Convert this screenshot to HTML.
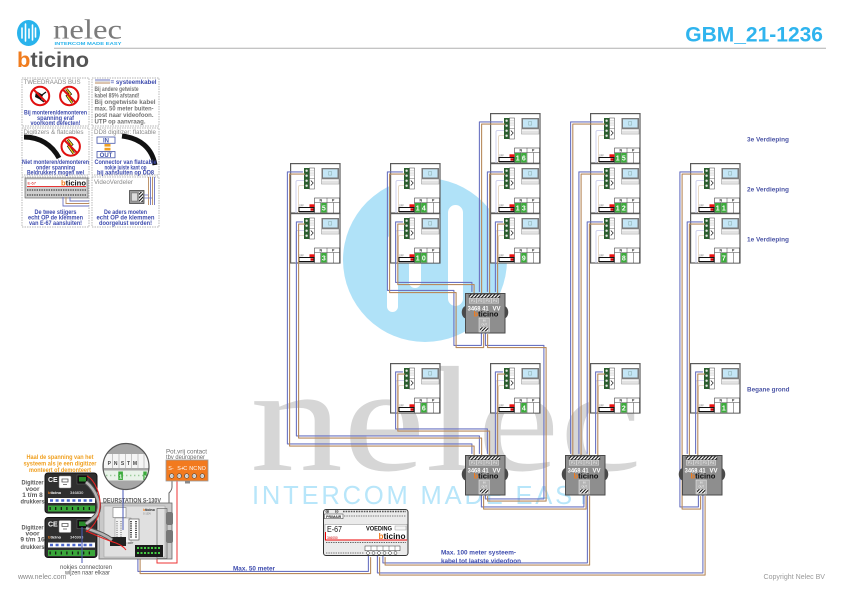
<!DOCTYPE html>
<html><head><meta charset="utf-8"><title>GBM_21-1236</title>
<style>
html,body{margin:0;padding:0;background:#fff;width:841px;height:595px;overflow:hidden}
svg{display:block;font-family:"Liberation Sans",Arial,sans-serif}
.np{font-size:3.6px;font-weight:bold;fill:#222;text-anchor:middle}
.off{font-size:2.4px;fill:#666}
.dg{font-size:7px;font-weight:bold;fill:#fff;text-anchor:middle}
.g{fill:#3cab3c}
.pl{font-size:3.4px;fill:#f4f4f4;text-anchor:middle}
.dt{font-size:6.4px;font-weight:bold;fill:#fff}
.bt{font-size:7.6px;font-weight:bold;fill:#111}
.io{font-size:2.6px;fill:#fff;text-anchor:middle}
.fl{font-size:6.4px;font-weight:bold;fill:#4c56a6}
.lb{font-size:6px;font-weight:bold;fill:#3e4cae;text-anchor:middle}
.lg{font-size:6.3px;font-weight:bold;fill:#747474}
.lgt{font-size:6.2px;fill:#8a8a8a}
.gr{font-size:6.5px;font-weight:bold;fill:#5a5a5a;text-anchor:middle}
.or{font-size:6.3px;font-weight:bold;fill:#f0a020;text-anchor:middle}
</style></head><body>
<svg width="841" height="595" viewBox="0 0 841 595" xmlns="http://www.w3.org/2000/svg" xmlns:xlink="http://www.w3.org/1999/xlink">
<defs>
<pattern id="hatch" width="2.4" height="2.4" patternUnits="userSpaceOnUse" patternTransform="rotate(45)"><rect width="2.4" height="2.4" fill="#fff"/><rect width="1.1" height="2.4" fill="#111"/></pattern>
<clipPath id="mag"><circle cx="126" cy="466.5" r="23"/></clipPath>
<g id="u">
<rect x=".6" y=".6" width="49.4" height="49.4" fill="#fff" stroke="#5a5a5a" stroke-width="1.2"/>
<path d="M14 17.5H7.5Q6 17.5 6 19V50" fill="none" stroke="#cfd0ec" stroke-width="1"/>
<path d="M14 22.5H10Q8.5 22.5 8.5 24V50" fill="none" stroke="#e6d8c6" stroke-width="1"/>
<rect x="14" y="5" width="5.5" height="21" fill="#2a5e2e"/>
<g fill="#e8e8e8"><circle cx="16.6" cy="7.7" r="1.2"/><circle cx="16.6" cy="12.7" r="1.2"/><circle cx="16.6" cy="17.7" r="1.2"/><circle cx="16.6" cy="22.7" r="1.2"/></g>
<rect x="19.5" y="5" width="5" height="21" fill="#fff" stroke="#444" stroke-width=".5"/>
<path d="M19.5 15.5h5" stroke="#444" stroke-width=".4"/>
<path d="M21 7v6M23 7v6" stroke="#999" stroke-width=".6" stroke-dasharray="1 .6"/>
<path d="M20.8 17.5l2.4 2.5-2.4 2.5" fill="none" stroke="#222" stroke-width=".7"/>
<rect x="31.5" y="5" width="17.5" height="11" fill="#7a7a7a"/>
<rect x="33" y="6.3" width="14.5" height="8.2" fill="#c4e6f6"/>
<rect x="38.6" y="8.6" width="3" height="3.5" fill="none" stroke="#8aa" stroke-width=".5"/>
<rect x="31.5" y="16" width="17.5" height="5" fill="#f4f4f4" stroke="#888" stroke-width=".5"/>
<path d="M32 19h16.5" stroke="#999" stroke-width=".4"/>
<rect x="24.5" y="35" width="25" height="15" fill="#fff" stroke="#444" stroke-width=".6"/>
<path d="M24.5 39.5H49.5M37 35V50M30.75 39.5V50M43.25 39.5V50" stroke="#444" stroke-width=".5"/>
<rect x="19.5" y="41.3" width="5" height="3.3" fill="#e11"/>
<rect x="9" y="44.5" width="15" height="4" fill="#fff" stroke="#111" stroke-width="1"/>
<rect x="20.5" y="45.3" width="3" height="2.4" fill="#c00"/>
</g>
<g id="d">
<path d="M0.5 13 C-4.5 14.5 -4.5 24 0.5 25.5Z" fill="#4a4a4a"/>
<path d="M39.5 13 C44.5 14.5 44.5 24 39.5 25.5Z" fill="#4a4a4a"/>
<rect x=".5" y=".5" width="39.5" height="39.5" fill="#8e8e8e" stroke="#4a4a4a" stroke-width="1"/>
<rect x="4" y="1.2" width="31" height="3.6" fill="url(#hatch)" stroke="#333" stroke-width=".4"/>
<g fill="#a9a9a9" stroke="#dcdcdc" stroke-width=".5"><rect x="4.3" y="5.2" width="7.2" height="5"/><rect x="11.7" y="5.2" width="7.2" height="5"/><rect x="19.1" y="5.2" width="7.2" height="5"/><rect x="26.5" y="5.2" width="7.2" height="5"/></g>
<rect x="14" y="25" width="10.3" height="14" fill="#b4b4b4" stroke="#e6e6e6" stroke-width=".6"/>
<rect x="15" y="34.3" width="8.3" height="4" fill="url(#hatch)"/>
</g>
<g id="routes" fill="none" stroke-width="1.1" stroke-linejoin="round">
<path d="M304 173H288.5V445H473V455"/>
<path d="M304 223H297.5V437H480.5V455"/>
<path d="M404 173H388.5V291.5H455V346.5H482.5V333"/>
<path d="M404 223H396.7V283.5H473V293"/>
<path d="M504 123H480.5V293"/>
<path d="M504 173H488.5V293"/>
<path d="M504 223H496.5V293"/>
<path d="M486.5 333V346.5H545V500H486.5V495"/>
<path d="M404 373H396.7V430H488.5V455"/>
<path d="M504 373H496.5V455"/>
<path d="M482.5 495V508H585V495"/>
<path d="M604 123H571.7V455"/>
<path d="M604 173H580V455"/>
<path d="M604 223H588.3V455"/>
<path d="M604 373H596.7V455"/>
<path d="M588.5 495V564H384V556"/>
<path d="M378.5 556V574H704V495"/>
<path d="M704 173H681V508H699.5V495"/>
<path d="M704 223H688.3V455"/>
<path d="M704 373H696.7V455"/>
<path d="M369.5 556V572.5H139V557"/>
</g>
</defs>

<!-- background watermark -->
<circle cx="425" cy="260" r="82" fill="#b0e2f8"/>
<g fill="#fff">
<rect x="387" y="235" width="11" height="77" rx="5.5"/>
<rect x="409" y="205" width="12" height="83" rx="6"/>
<rect x="448" y="205" width="15" height="101" rx="7.5"/>
</g>
<text x="250" y="470" font-family="Liberation Serif" font-size="150" fill="#d6d6d6" textLength="392" lengthAdjust="spacingAndGlyphs">nelec</text>
<text x="252" y="504" font-size="25.5" fill="#b8e6fa" textLength="340" lengthAdjust="spacing">INTERCOM MADE EASY</text>

<!-- header -->
<ellipse cx="28.5" cy="33" rx="11.5" ry="13" fill="#29b3ec"/>
<g stroke="#fff" stroke-width="1.6" stroke-linecap="round"><path d="M22 28v10M25.5 24v17M29 29v9M32.5 25v15M35.5 28v9"/></g>
<text x="53" y="38.3" font-family="Liberation Serif" font-size="27" fill="#7b7b7b" textLength="69" lengthAdjust="spacingAndGlyphs">nelec</text>
<text x="54.5" y="45" font-size="4.6" font-weight="bold" fill="#29b3ec" textLength="67" lengthAdjust="spacingAndGlyphs">INTERCOM MADE EASY</text>
<path d="M54 48.3H826" stroke="#b0b0b0" stroke-width="1"/>
<text x="17" y="67" font-size="21" font-weight="bold" fill="#555" textLength="72" lengthAdjust="spacingAndGlyphs"><tspan fill="#f07c1e">b</tspan>ticino</text>
<text x="823" y="41.7" font-size="21" font-weight="bold" fill="#2fb4ee" text-anchor="end">GBM_21-1236</text>

<!-- legend -->
<g fill="none" stroke="#9a9a9a" stroke-width=".7" stroke-dasharray="1.5 1">
<rect x="22" y="78" width="67" height="48"/><rect x="92" y="78" width="67" height="48"/>
<rect x="22" y="128" width="67" height="47"/><rect x="92" y="128" width="67" height="47"/>
<rect x="22" y="177" width="67" height="50"/><rect x="92" y="177" width="67" height="50"/>
</g>
<text class="lgt" x="23.5" y="84" textLength="57" lengthAdjust="spacingAndGlyphs">TWEEDRAADS BUS</text>
<g transform="translate(40,96)">
<circle r="9.2" fill="#fff" stroke="#e01010" stroke-width="2"/>
<path d="M-4 -5L3 -1L1 4L-5 1Z" fill="#111"/><path d="M2 -1L6 -4M0 3L4 6" stroke="#111" stroke-width="1.3"/>
<path d="M-6.5 -6.5L6.5 6.5" stroke="#e01010" stroke-width="2"/></g>
<g transform="translate(69.3,96)">
<circle r="9.2" fill="#fff" stroke="#e01010" stroke-width="2"/>
<path d="M-3 -7L1 -2L-2 0L3 7" stroke="#111" stroke-width="2.6" fill="none"/>
<path d="M-3 -7L1 -2L-2 0L3 7" stroke="#f2d21a" stroke-width="1.3" fill="none"/>
<path d="M-6.5 -6.5L6.5 6.5" stroke="#e01010" stroke-width="2"/></g>
<text class="lb" x="55.5" y="114.3" textLength="63" lengthAdjust="spacingAndGlyphs">Bij monteren/demonteren</text>
<text class="lb" x="55.5" y="119.8" textLength="37" lengthAdjust="spacingAndGlyphs">spanning eraf</text>
<text class="lb" x="55.5" y="125" textLength="50" lengthAdjust="spacingAndGlyphs">voorkomt defecten!</text>

<path d="M95 80H110" stroke="#6b73c2" stroke-width="1"/><path d="M95 81.5H110" stroke="#ddd" stroke-width="1"/><path d="M95 83H110" stroke="#b88a5c" stroke-width="1"/>
<text x="110.5" y="84" font-size="6" font-weight="bold" fill="#3e4cae" textLength="46" lengthAdjust="spacingAndGlyphs">= systeemkabel</text>
<text class="lg" x="94.5" y="91" textLength="44" lengthAdjust="spacingAndGlyphs">Bij andere getwiste</text>
<text class="lg" x="94.5" y="97.5" textLength="45" lengthAdjust="spacingAndGlyphs">kabel 85% afstand!</text>
<text class="lg" x="94.5" y="104" textLength="61" lengthAdjust="spacingAndGlyphs">Bij ongetwiste kabel</text>
<text class="lg" x="94.5" y="110.5" textLength="59" lengthAdjust="spacingAndGlyphs">max. 50 meter buiten-</text>
<text class="lg" x="94.5" y="117" textLength="59" lengthAdjust="spacingAndGlyphs">post naar videofoon.</text>
<text class="lg" x="94.5" y="123.5" textLength="51" lengthAdjust="spacingAndGlyphs">UTP op aanvraag.</text>

<text class="lgt" x="23.5" y="134" textLength="60" lengthAdjust="spacingAndGlyphs">Digitizers &amp; flatcables</text>
<path d="M24 137C40 137 52 145 59 158" stroke="#111" stroke-width="5" fill="none"/>
<g transform="translate(70.7,146.5)">
<circle r="9.2" fill="#fff" stroke="#e01010" stroke-width="2"/>
<path d="M-3 -7L1 -2L-2 0L3 7" stroke="#111" stroke-width="2.6" fill="none"/>
<path d="M-3 -7L1 -2L-2 0L3 7" stroke="#f2d21a" stroke-width="1.3" fill="none"/>
<path d="M-6.5 -6.5L6.5 6.5" stroke="#e01010" stroke-width="2"/></g>
<text class="lb" x="55.5" y="164" textLength="67" lengthAdjust="spacingAndGlyphs">Niet monteren/demonteren</text>
<text class="lb" x="55.5" y="169.5" textLength="39" lengthAdjust="spacingAndGlyphs">onder spanning</text>
<text class="lb" x="55.5" y="174.5" textLength="57" lengthAdjust="spacingAndGlyphs">Beldrukkers mogen wel</text>

<text class="lgt" x="94" y="134" textLength="62" lengthAdjust="spacingAndGlyphs">DD8 digitizer: flatcable</text>
<rect x="97" y="137" width="18" height="6.3" fill="#fff" stroke="#4455aa" stroke-width=".8"/>
<text x="106" y="142.4" font-size="6" font-weight="bold" fill="#4455aa" text-anchor="middle">IN</text>
<rect x="104.5" y="144" width="6" height="2.6" fill="#f0a020"/><rect x="104.5" y="147.8" width="6" height="2.6" fill="#f0a020"/>
<rect x="97" y="151.5" width="18" height="6.3" fill="#fff" stroke="#4455aa" stroke-width=".8"/>
<text x="106" y="156.9" font-size="6" font-weight="bold" fill="#4455aa" text-anchor="middle">OUT</text>
<path d="M122 136C140 138 152 148 155 165" stroke="#111" stroke-width="5" fill="none"/>
<text class="lb" x="125.5" y="164" textLength="62" lengthAdjust="spacingAndGlyphs">Connector van flatcable</text>
<text class="lb" x="125.5" y="169.5" textLength="42" lengthAdjust="spacingAndGlyphs">nokje juiste kant op</text>
<text class="lb" x="125.5" y="174.5" textLength="57" lengthAdjust="spacingAndGlyphs">bij aansluiten op DD8</text>

<rect x="25" y="178" width="63" height="20" fill="#cfcfcf" stroke="#555" stroke-width=".6"/>
<rect x="27" y="179.5" width="59" height="6.5" fill="#fff"/>
<text x="27.5" y="184.5" font-size="4" fill="#c00">E-67</text>
<text x="61" y="185.3" font-size="7" font-weight="bold" fill="#111" textLength="25" lengthAdjust="spacingAndGlyphs"><tspan fill="#f07c1e">b</tspan>ticino</text>
<path d="M27 186.5H86" stroke="#e00" stroke-width=".8"/>
<path d="M27 190H86M27 195H86" stroke="#555" stroke-width="1.4" stroke-dasharray="1.4 1"/>
<path d="M63 197V206H89" stroke="#6b73c2" fill="none" stroke-width=".9"/><path d="M66 197V203.5H89" stroke="#b88a5c" fill="none" stroke-width=".9"/>
<path d="M70 197V201H89" stroke="#6b73c2" fill="none" stroke-width=".9"/>
<text class="lb" x="55.5" y="214" textLength="42" lengthAdjust="spacingAndGlyphs">De twee stijgers</text>
<text class="lb" x="55.5" y="219.5" textLength="55" lengthAdjust="spacingAndGlyphs">echt OP de klemmen</text>
<text class="lb" x="55.5" y="225" textLength="53" lengthAdjust="spacingAndGlyphs">van E-67 aansluiten!</text>

<text class="lgt" x="94" y="184" textLength="39" lengthAdjust="spacingAndGlyphs">VideoVerdeler</text>
<path d="M148.5 177V205M152.5 177V205" stroke="#b88a5c" stroke-width=".9"/>
<path d="M150.5 177V205M154.5 177V205" stroke="#6b73c2" stroke-width=".9"/>
<rect x="129.5" y="190.5" width="14.5" height="13" fill="#9a9a9a" stroke="#333" stroke-width=".7"/>
<rect x="131.5" y="193" width="6" height="8" fill="#ddd" stroke="#555" stroke-width=".4"/>
<rect x="139" y="192" width="4" height="10" fill="url(#hatch)"/>
<path d="M144 195H148.5M144 198H152.5" stroke="#6b73c2" stroke-width=".8"/>
<text class="lb" x="125.5" y="214" textLength="43" lengthAdjust="spacingAndGlyphs">De aders moeten</text>
<text class="lb" x="125.5" y="219.5" textLength="58" lengthAdjust="spacingAndGlyphs">echt OP de klemmen</text>
<text class="lb" x="125.5" y="225" textLength="53" lengthAdjust="spacingAndGlyphs">doorgelust worden!</text>

<!-- units -->
<g transform="translate(290,163)"><use href="#u" xlink:href="#u"/><text class="np" x="30.75" y="38.7">N</text><text class="np" x="43.25" y="38.7">P</text><text class="off" x="9" y="43.3">OFF</text><rect class="g" x="31.1" y="40" width="5.5" height="9.5"/><text class="dg" x="33.85" y="47.6">5</text></g>
<g transform="translate(290,213)"><use href="#u" xlink:href="#u"/><text class="np" x="30.75" y="38.7">N</text><text class="np" x="43.25" y="38.7">P</text><text class="off" x="9" y="43.3">OFF</text><rect class="g" x="31.1" y="40" width="5.5" height="9.5"/><text class="dg" x="33.85" y="47.6">3</text></g>
<g transform="translate(390,163)"><use href="#u" xlink:href="#u"/><text class="np" x="30.75" y="38.7">N</text><text class="np" x="43.25" y="38.7">P</text><text class="off" x="9" y="43.3">OFF</text><rect class="g" x="24.9" y="40" width="5.5" height="9.5"/><text class="dg" x="27.65" y="47.6">1</text><rect class="g" x="31.1" y="40" width="5.5" height="9.5"/><text class="dg" x="33.85" y="47.6">4</text></g>
<g transform="translate(390,213)"><use href="#u" xlink:href="#u"/><text class="np" x="30.75" y="38.7">N</text><text class="np" x="43.25" y="38.7">P</text><text class="off" x="9" y="43.3">OFF</text><rect class="g" x="24.9" y="40" width="5.5" height="9.5"/><text class="dg" x="27.65" y="47.6">1</text><rect class="g" x="31.1" y="40" width="5.5" height="9.5"/><text class="dg" x="33.85" y="47.6">0</text></g>
<g transform="translate(390,363)"><use href="#u" xlink:href="#u"/><text class="np" x="30.75" y="38.7">N</text><text class="np" x="43.25" y="38.7">P</text><text class="off" x="9" y="43.3">OFF</text><rect class="g" x="31.1" y="40" width="5.5" height="9.5"/><text class="dg" x="33.85" y="47.6">6</text></g>
<g transform="translate(490,113)"><use href="#u" xlink:href="#u"/><text class="np" x="30.75" y="38.7">N</text><text class="np" x="43.25" y="38.7">P</text><text class="off" x="9" y="43.3">OFF</text><rect class="g" x="24.9" y="40" width="5.5" height="9.5"/><text class="dg" x="27.65" y="47.6">1</text><rect class="g" x="31.1" y="40" width="5.5" height="9.5"/><text class="dg" x="33.85" y="47.6">6</text></g>
<g transform="translate(490,163)"><use href="#u" xlink:href="#u"/><text class="np" x="30.75" y="38.7">N</text><text class="np" x="43.25" y="38.7">P</text><text class="off" x="9" y="43.3">OFF</text><rect class="g" x="24.9" y="40" width="5.5" height="9.5"/><text class="dg" x="27.65" y="47.6">1</text><rect class="g" x="31.1" y="40" width="5.5" height="9.5"/><text class="dg" x="33.85" y="47.6">3</text></g>
<g transform="translate(490,213)"><use href="#u" xlink:href="#u"/><text class="np" x="30.75" y="38.7">N</text><text class="np" x="43.25" y="38.7">P</text><text class="off" x="9" y="43.3">OFF</text><rect class="g" x="31.1" y="40" width="5.5" height="9.5"/><text class="dg" x="33.85" y="47.6">9</text></g>
<g transform="translate(490,363)"><use href="#u" xlink:href="#u"/><text class="np" x="30.75" y="38.7">N</text><text class="np" x="43.25" y="38.7">P</text><text class="off" x="9" y="43.3">OFF</text><rect class="g" x="31.1" y="40" width="5.5" height="9.5"/><text class="dg" x="33.85" y="47.6">4</text></g>
<g transform="translate(590,113)"><use href="#u" xlink:href="#u"/><text class="np" x="30.75" y="38.7">N</text><text class="np" x="43.25" y="38.7">P</text><text class="off" x="9" y="43.3">OFF</text><rect class="g" x="24.9" y="40" width="5.5" height="9.5"/><text class="dg" x="27.65" y="47.6">1</text><rect class="g" x="31.1" y="40" width="5.5" height="9.5"/><text class="dg" x="33.85" y="47.6">5</text></g>
<g transform="translate(590,163)"><use href="#u" xlink:href="#u"/><text class="np" x="30.75" y="38.7">N</text><text class="np" x="43.25" y="38.7">P</text><text class="off" x="9" y="43.3">OFF</text><rect class="g" x="24.9" y="40" width="5.5" height="9.5"/><text class="dg" x="27.65" y="47.6">1</text><rect class="g" x="31.1" y="40" width="5.5" height="9.5"/><text class="dg" x="33.85" y="47.6">2</text></g>
<g transform="translate(590,213)"><use href="#u" xlink:href="#u"/><text class="np" x="30.75" y="38.7">N</text><text class="np" x="43.25" y="38.7">P</text><text class="off" x="9" y="43.3">OFF</text><rect class="g" x="31.1" y="40" width="5.5" height="9.5"/><text class="dg" x="33.85" y="47.6">8</text></g>
<g transform="translate(590,363)"><use href="#u" xlink:href="#u"/><text class="np" x="30.75" y="38.7">N</text><text class="np" x="43.25" y="38.7">P</text><text class="off" x="9" y="43.3">OFF</text><rect class="g" x="31.1" y="40" width="5.5" height="9.5"/><text class="dg" x="33.85" y="47.6">2</text></g>
<g transform="translate(690,163)"><use href="#u" xlink:href="#u"/><text class="np" x="30.75" y="38.7">N</text><text class="np" x="43.25" y="38.7">P</text><text class="off" x="9" y="43.3">OFF</text><rect class="g" x="24.9" y="40" width="5.5" height="9.5"/><text class="dg" x="27.65" y="47.6">1</text><rect class="g" x="31.1" y="40" width="5.5" height="9.5"/><text class="dg" x="33.85" y="47.6">1</text></g>
<g transform="translate(690,213)"><use href="#u" xlink:href="#u"/><text class="np" x="30.75" y="38.7">N</text><text class="np" x="43.25" y="38.7">P</text><text class="off" x="9" y="43.3">OFF</text><rect class="g" x="31.1" y="40" width="5.5" height="9.5"/><text class="dg" x="33.85" y="47.6">7</text></g>
<g transform="translate(690,363)"><use href="#u" xlink:href="#u"/><text class="np" x="30.75" y="38.7">N</text><text class="np" x="43.25" y="38.7">P</text><text class="off" x="9" y="43.3">OFF</text><rect class="g" x="31.1" y="40" width="5.5" height="9.5"/><text class="dg" x="33.85" y="47.6">1</text></g>

<!-- wires -->
<use href="#routes" xlink:href="#routes" transform="translate(-1.1,-1.1)" stroke="#6b73c2"/>
<use href="#routes" xlink:href="#routes" transform="translate(1.1,1.1)" stroke="#b88a5c"/>

<!-- distributors -->
<g transform="translate(465,293)"><use href="#d" xlink:href="#d"/><text class="pl" x="7.9" y="9.2">P1</text><text class="pl" x="15.3" y="9.2">P2</text><text class="pl" x="22.7" y="9.2">P3</text><text class="pl" x="30.1" y="9.2">P4</text><text class="dt" x="2.6" y="17.6" textLength="21" lengthAdjust="spacingAndGlyphs">3468 41</text><text class="dt" x="27.5" y="17.6" textLength="8" lengthAdjust="spacingAndGlyphs">VV</text><text class="bt" x="8.5" y="23.4"><tspan fill="#f07c1e">b</tspan>ticino</text><text class="io" x="19.2" y="28.6">IN</text><text class="io" x="19.2" y="32.6">OUT</text></g>
<g transform="translate(465,455)"><use href="#d" xlink:href="#d"/><text class="pl" x="7.9" y="9.2">P1</text><text class="pl" x="15.3" y="9.2">P2</text><text class="pl" x="22.7" y="9.2">P3</text><text class="pl" x="30.1" y="9.2">P4</text><text class="dt" x="2.6" y="17.6" textLength="21" lengthAdjust="spacingAndGlyphs">3468 41</text><text class="dt" x="27.5" y="17.6" textLength="8" lengthAdjust="spacingAndGlyphs">VV</text><text class="bt" x="8.5" y="23.4"><tspan fill="#f07c1e">b</tspan>ticino</text><text class="io" x="19.2" y="28.6">IN</text><text class="io" x="19.2" y="32.6">OUT</text></g>
<g transform="translate(565,455)"><use href="#d" xlink:href="#d"/><text class="pl" x="7.9" y="9.2">P1</text><text class="pl" x="15.3" y="9.2">P2</text><text class="pl" x="22.7" y="9.2">P3</text><text class="pl" x="30.1" y="9.2">P4</text><text class="dt" x="2.6" y="17.6" textLength="21" lengthAdjust="spacingAndGlyphs">3468 41</text><text class="dt" x="27.5" y="17.6" textLength="8" lengthAdjust="spacingAndGlyphs">VV</text><text class="bt" x="8.5" y="23.4"><tspan fill="#f07c1e">b</tspan>ticino</text><text class="io" x="19.2" y="28.6">IN</text><text class="io" x="19.2" y="32.6">OUT</text></g>
<g transform="translate(682,455)"><use href="#d" xlink:href="#d"/><text class="pl" x="7.9" y="9.2">P1</text><text class="pl" x="15.3" y="9.2">P2</text><text class="pl" x="22.7" y="9.2">P3</text><text class="pl" x="30.1" y="9.2">P4</text><text class="dt" x="2.6" y="17.6" textLength="21" lengthAdjust="spacingAndGlyphs">3468 41</text><text class="dt" x="27.5" y="17.6" textLength="8" lengthAdjust="spacingAndGlyphs">VV</text><text class="bt" x="8.5" y="23.4"><tspan fill="#f07c1e">b</tspan>ticino</text><text class="io" x="19.2" y="28.6">IN</text><text class="io" x="19.2" y="32.6">OUT</text></g>

<!-- floor labels -->
<text class="fl" x="747" y="141.5" textLength="42" lengthAdjust="spacingAndGlyphs">3e Verdieping</text>
<text class="fl" x="747" y="191.5" textLength="42" lengthAdjust="spacingAndGlyphs">2e Verdieping</text>
<text class="fl" x="747" y="241.5" textLength="42" lengthAdjust="spacingAndGlyphs">1e Verdieping</text>
<text class="fl" x="747" y="391.5" textLength="42.5" lengthAdjust="spacingAndGlyphs">Begane grond</text>

<!-- E-67 -->
<rect x="323.5" y="509.5" width="84.5" height="46" rx="2.5" fill="#ebebeb" stroke="#333" stroke-width="1"/>
<g fill="#fff" stroke="#333" stroke-width=".5"><circle cx="327.3" cy="511.5" r="1.5"/><circle cx="336.7" cy="511.5" r="1.5"/></g>
<path d="M326.3 511.5h2M327.3 510.5v2M335.7 511.5h2" stroke="#333" stroke-width=".5"/>
<path d="M343 511.5H406" stroke="#555" stroke-width="1.6" stroke-dasharray="1.6 1"/>
<rect x="324.5" y="514" width="18.5" height="4.7" fill="#fff" stroke="#333" stroke-width=".5"/>
<text x="333.7" y="517.8" font-size="3.6" font-weight="bold" fill="#222" text-anchor="middle">PRIMAIR</text>
<path d="M344 516H406" stroke="#777" stroke-width="1" stroke-dasharray="1.4 1"/>
<rect x="325" y="524.3" width="82" height="15.7" fill="#fff" stroke="#888" stroke-width=".5"/>
<text x="327" y="532" font-size="8" fill="#111" textLength="15" lengthAdjust="spacingAndGlyphs">E-67</text>
<text x="366" y="530.5" font-size="6.5" font-weight="bold" fill="#111" textLength="26" lengthAdjust="spacingAndGlyphs">VOEDING</text>
<rect x="395" y="526" width="11" height="4" fill="#f4f4f4" stroke="#888" stroke-width=".4"/>
<text x="327" y="538.8" font-size="3.2" fill="#c00">346050</text>
<path d="M325.5 532V540H407" stroke="#e00" stroke-width="1" fill="none"/>
<text x="378.5" y="539" font-size="8.5" font-weight="bold" fill="#111" textLength="27" lengthAdjust="spacingAndGlyphs"><tspan fill="#f07c1e">b</tspan>ticino</text>
<path d="M326 542.5H406" stroke="#666" stroke-width="1" stroke-dasharray="1.4 1"/>
<rect x="365" y="546" width="35" height="4.7" fill="#fff" stroke="#333" stroke-width=".5"/>
<path d="M371 546v4.7M377 546v4.7M383 546v4.7M389 546v4.7M395 546v4.7" stroke="#333" stroke-width=".4"/>
<g fill="#fff" stroke="#333" stroke-width=".5"><circle cx="368" cy="553" r="1.5"/><circle cx="373.5" cy="553" r="1.5"/><circle cx="379" cy="553" r="1.5"/><circle cx="384.5" cy="553" r="1.5"/><circle cx="390" cy="553" r="1.5"/><circle cx="395.5" cy="553" r="1.5"/></g>
<path d="M326 553H364" stroke="#777" stroke-width="1" stroke-dasharray="1.4 1"/>

<text class="lb" x="478.5" y="554.5" font-size="6.5" textLength="75" lengthAdjust="spacingAndGlyphs">Max. 100 meter systeem-</text>
<text class="lb" x="481" y="563" font-size="6.5" textLength="80" lengthAdjust="spacingAndGlyphs">kabel tot laatste videofoon</text>
<text class="lb" x="254" y="570.5" font-size="6.5" textLength="42" lengthAdjust="spacingAndGlyphs">Max. 50 meter</text>

<!-- pot.vrij contact -->
<text x="166" y="453.5" font-size="6.3" fill="#6a6a6a" textLength="41" lengthAdjust="spacingAndGlyphs">Pot.vrij contact</text>
<text x="166" y="459" font-size="6.3" fill="#6a6a6a" textLength="39" lengthAdjust="spacingAndGlyphs">tbv deuropener</text>
<path d="M172 479V487Q172 490 169 493V557" stroke="#666" stroke-width="1" fill="none"/>
<path d="M177 479V563H157V557" stroke="#e33" stroke-width="1" fill="none"/>
<rect x="166" y="460" width="42" height="21" fill="#f27a1f" stroke="#999" stroke-width=".8"/>
<g font-size="5.4" fill="#fff"><text x="168.3" y="470">S-</text><text x="177.3" y="470">S+</text><text x="183.3" y="470">C</text><text x="189.3" y="470">NC</text><text x="197.7" y="470">NO</text></g>
<g fill="#fff" stroke="#333" stroke-width=".6"><circle cx="171.7" cy="476" r="2.2"/><circle cx="179.3" cy="476" r="2.2"/><circle cx="186.7" cy="476" r="2.2"/><circle cx="194.3" cy="476" r="2.2"/><circle cx="202.3" cy="476" r="2.2"/></g>
<path d="M170.2 476h3M178 476h3M185.2 476h3M192.8 476h3M200.8 476h3" stroke="#333" stroke-width=".5"/>
<rect x="185" y="481" width="5" height="2.5" fill="#888"/>

<!-- door station -->
<text x="103" y="502.7" font-size="6.3" font-weight="bold" fill="#5a5a5a" textLength="58" lengthAdjust="spacingAndGlyphs">DEURSTATION S-130V</text>
<rect x="99" y="503" width="73" height="56" fill="#c9c9c9" stroke="#6a6a6a" stroke-width=".8"/>
<rect x="104" y="506" width="61" height="51" fill="#e0e0e0" stroke="#999" stroke-width=".5"/>
<rect x="113" y="507.5" width="13" height="10" fill="#fff" stroke="#777" stroke-width=".6"/>
<rect x="115" y="518" width="16" height="25" fill="#f2f2f2" stroke="#888" stroke-width=".5"/>
<path d="M117 521V541M121 521V541" stroke="#888" stroke-width="1.4" stroke-dasharray="1 1.2"/>
<rect x="129" y="519" width="10" height="21" fill="#fff" stroke="#444" stroke-width=".6"/>
<path d="M131 521V538M136 521V538" stroke="#222" stroke-width="1.6" stroke-dasharray="1.2 1"/>
<text x="143" y="511" font-size="3.6" font-weight="bold" fill="#111"><tspan fill="#f07c1e">b</tspan>ticino</text>
<text x="143" y="514.5" font-size="2.4" fill="#777">S-130V</text>
<rect x="157" y="508.5" width="10" height="50" fill="none" stroke="#555" stroke-width=".6"/>
<rect x="166" y="512" width="7" height="13" rx="2" fill="#777"/>
<rect x="166" y="530" width="7" height="13" rx="2" fill="#777"/>
<rect x="110" y="537" width="16" height="9" fill="#222"/>
<rect x="135" y="545" width="28" height="12" fill="#1a1a1a"/>
<path d="M137 548H161M137 553H161" stroke="#4c4" stroke-width="2" stroke-dasharray="2 1.5"/>
<text x="128" y="544" font-size="2.6" fill="#333">OUT</text>

<!-- digitizers -->
<g transform="translate(45,473)">
<rect x="0" y="0" width="52" height="40" rx="3" fill="#2f2f2f" stroke="#111"/>
<text x="3" y="9" font-size="7" font-weight="bold" fill="#fff">CE</text>
<rect x="14" y="3" width="12" height="12" rx="1" fill="#fff" stroke="#888" stroke-width=".5"/>
<path d="M17 6h6v3h-6z M18 11.5h4" stroke="#555" stroke-width=".8" fill="none"/>
<text x="3" y="21" font-size="4" font-weight="bold" fill="#fff"><tspan fill="#f07c1e">b</tspan>ticino</text>
<text x="25" y="21" font-size="4" fill="#fff">346830</text>
<rect x="32" y="2" width="11" height="9" fill="#111" stroke="#666" stroke-width=".5"/>
<rect x="34" y="4" width="7" height="4.5" fill="#2a8a2a"/>
<rect x="3" y="25" width="47" height="5" fill="#fff"/>
<path d="M5 27.5H48" stroke="#4a66cc" stroke-width="2.4" stroke-dasharray="3 2.6"/>
<rect x="3" y="32.5" width="47" height="6" fill="#3aa63a"/>
<path d="M4.5 35.5H49" stroke="#111" stroke-width="3" stroke-dasharray="1.2 4.4"/>
</g>
<g transform="translate(45,517.5)">
<rect x="0" y="0" width="52" height="40" rx="3" fill="#2f2f2f" stroke="#111"/>
<text x="3" y="9" font-size="7" font-weight="bold" fill="#fff">CE</text>
<rect x="14" y="3" width="12" height="12" rx="1" fill="#fff" stroke="#888" stroke-width=".5"/>
<path d="M17 6h6v3h-6z M18 11.5h4" stroke="#555" stroke-width=".8" fill="none"/>
<text x="3" y="21" font-size="4" font-weight="bold" fill="#fff"><tspan fill="#f07c1e">b</tspan>ticino</text>
<text x="25" y="21" font-size="4" fill="#fff">346993</text>
<rect x="32" y="2" width="11" height="9" fill="#111" stroke="#666" stroke-width=".5"/>
<rect x="34" y="4" width="7" height="4.5" fill="#2a8a2a"/>
<rect x="3" y="25" width="47" height="5" fill="#fff"/>
<path d="M5 27.5H48" stroke="#4a66cc" stroke-width="2.4" stroke-dasharray="3 2.6"/>
<rect x="3" y="32.5" width="47" height="6" fill="#3aa63a"/>
<path d="M4.5 35.5H49" stroke="#111" stroke-width="3" stroke-dasharray="1.2 4.4"/>
</g>
<!-- flat cables and red wires -->
<path d="M86 482C96 490 102 505 97 514C93 520 88 522 86 524" stroke="#555" stroke-width="4.5" fill="none"/>
<path d="M86 482C96 490 102 505 97 514C93 520 88 522 86 524" stroke="#b5b5b5" stroke-width="2.5" fill="none"/>
<path d="M86 528C96 532 104 534 112 540" stroke="#555" stroke-width="4.5" fill="none"/>
<path d="M86 528C96 532 104 534 112 540" stroke="#b5b5b5" stroke-width="2.5" fill="none"/>
<path d="M87 476C95 480 101 495 100 507C99 520 92 528 86 532" stroke="#e22" stroke-width="1" fill="none"/>
<path d="M86 531C98 536 106 540 116 543C121 545 124 547 126 550" stroke="#e22" stroke-width="1" fill="none"/>

<!-- magnifier -->
<path d="M123 489V530" stroke="#4a5ab8" stroke-width="1"/>
<g clip-path="url(#mag)">
<rect x="100" y="440" width="54" height="55" fill="#a6a6a6"/>
<rect x="104" y="454" width="46" height="14" fill="#f5f5f5"/>
<path d="M112.5 454V468M119 454V468M125.5 454V468M131.5 454V468M138 454V468M144 454V468" stroke="#bbb" stroke-width=".8"/>
<g font-size="5" font-weight="bold" fill="#444" text-anchor="middle"><text x="109.3" y="465">P</text><text x="115.7" y="465">N</text><text x="122.5" y="465">S</text><text x="128.5" y="465">T</text><text x="135" y="465">M</text></g>
<rect x="104" y="470.5" width="46" height="10" fill="#e9f3e9"/>
<path d="M106 475.5H150" stroke="#9c9" stroke-width="1.6" stroke-dasharray="1.4 2.6"/>
<rect x="118.3" y="471.5" width="4.6" height="8.5" fill="#3cab3c"/>
<text x="120.6" y="478.3" font-size="5.5" font-weight="bold" fill="#fff" text-anchor="middle">1</text>
<rect x="143.3" y="471.5" width="3.4" height="8.5" fill="#3cab3c"/>
<text x="145" y="478.3" font-size="4.5" font-weight="bold" fill="#fff" text-anchor="middle">3</text>
</g>
<circle cx="126" cy="466.5" r="23" fill="none" stroke="#555" stroke-width="1.2"/>

<!-- bottom-left labels -->
<text class="or" x="60" y="459" textLength="67" lengthAdjust="spacingAndGlyphs">Haal de spanning van het</text>
<text class="or" x="60" y="465.5" textLength="73" lengthAdjust="spacingAndGlyphs">systeem als je een digitizer</text>
<text class="or" x="60" y="472" textLength="62" lengthAdjust="spacingAndGlyphs">monteert of demonteert</text>
<text class="gr" x="32.5" y="484.5" textLength="22" lengthAdjust="spacingAndGlyphs">Digitizer</text>
<text class="gr" x="32.5" y="491">voor</text>
<text class="gr" x="32.5" y="497">1 t/m 8</text>
<text class="gr" x="32.5" y="503.5" textLength="24" lengthAdjust="spacingAndGlyphs">drukkers</text>
<text class="gr" x="32.5" y="529.5" textLength="22" lengthAdjust="spacingAndGlyphs">Digitizer</text>
<text class="gr" x="32.5" y="535.5">voor</text>
<text class="gr" x="32.5" y="541.5">9 t/m 16</text>
<text class="gr" x="32.5" y="549" textLength="24" lengthAdjust="spacingAndGlyphs">drukkers</text>
<path d="M82 527V563" stroke="#4a5ab8" stroke-width="1"/>
<text x="86" y="569" font-size="6.5" fill="#555" text-anchor="middle" textLength="52" lengthAdjust="spacingAndGlyphs">nokjes connectoren</text>
<text x="87.5" y="574.5" font-size="6.5" fill="#555" text-anchor="middle" textLength="45" lengthAdjust="spacingAndGlyphs">wijzen naar elkaar</text>
<text x="18" y="579" font-size="7" fill="#888" textLength="48.5" lengthAdjust="spacingAndGlyphs">www.nelec.com</text>
<text x="763.5" y="579" font-size="7" fill="#999" textLength="61.5" lengthAdjust="spacingAndGlyphs">Copyright Nelec BV</text>
</svg>
</body></html>
